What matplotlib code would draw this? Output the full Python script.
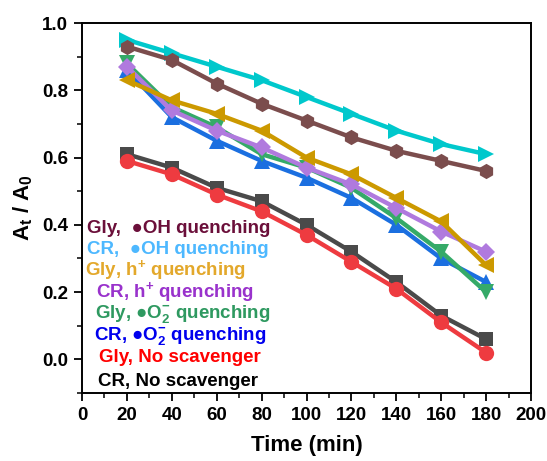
import matplotlib
matplotlib.use("Agg")
import matplotlib.pyplot as plt
from matplotlib.ticker import MultipleLocator

plt.rcParams['font.family'] = ['Liberation Sans', 'DejaVu Sans']
plt.rcParams['font.weight'] = 'bold'
plt.rcParams['mathtext.fontset'] = 'custom'
plt.rcParams['mathtext.rm'] = 'Liberation Sans:bold'
plt.rcParams['mathtext.it'] = 'Liberation Sans:bold'
plt.rcParams['mathtext.bf'] = 'Liberation Sans:bold'
plt.rcParams['mathtext.default'] = 'rm'

time = [20, 40, 60, 80, 100, 120, 140, 160, 180]
cr_none = [0.61, 0.57, 0.51, 0.47, 0.40, 0.32, 0.23, 0.13, 0.06]
gly_none = [0.59, 0.55, 0.49, 0.44, 0.37, 0.29, 0.21, 0.11, 0.02]
cr_oh = [0.95, 0.91, 0.87, 0.83, 0.78, 0.73, 0.68, 0.64, 0.61]
gly_oh = [0.93, 0.89, 0.82, 0.76, 0.71, 0.66, 0.62, 0.59, 0.56]
cr_o2 = [0.86, 0.72, 0.65, 0.59, 0.54, 0.48, 0.40, 0.30, 0.23]
gly_o2 = [0.88, 0.75, 0.69, 0.61, 0.57, 0.51, 0.42, 0.32, 0.20]
cr_h = [0.87, 0.74, 0.68, 0.63, 0.57, 0.52, 0.45, 0.38, 0.32]
gly_h = [0.83, 0.77, 0.73, 0.68, 0.60, 0.55, 0.48, 0.41, 0.28]

series = [
    (cr_none, '#4a4a4a', 's'),
    (gly_none, '#ee3b40', 'o'),
    (cr_oh, '#00c8cc', '>'),
    (gly_oh, '#7b4d4d', 'h'),
    (cr_o2, '#1b6fe0', '^'),
    (gly_o2, '#35aa68', 'v'),
    (cr_h, '#b07ade', 'D'),
    (gly_h, '#cc9900', '<'),
]

labels = [
    ("Gly,  ●OH quenching", '#6b0f3a'),
    ("CR,  ●OH quenching", '#4db8ff'),
    ("Gly, h$^{+}$ quenching", '#e3a82b'),
    ("CR, h$^{+}$ quenching", '#9932cc'),
    ("Gly, ●O$_{2}^{-}$ quenching", '#2e9960'),
    ("CR, ●O$_{2}^{-}$ quenching", '#0000ee'),
    ("Gly, No scavenger", '#ff0000'),
    ("CR, No scavenger", '#000000'),
]
label_x = [87, 87, 85, 96, 95, 94, 99, 98]
label_y = [228, 249, 270, 292, 314, 336, 358, 381]

W, H = 547, 461
fig = plt.figure(figsize=(W / 100, H / 100), dpi=100)
ax = fig.add_axes([82 / W, 1 - 393 / H, (531 - 82) / W, (393 - 23) / H])

for vals, c, m in series:
    ms = 11.5
    if m == 's':
        ms = 10
    if m == 'D':
        ms = 9.5
    if m in ('o', 'h'):
        ms = 11
    ax.plot(time, vals, color=c, marker=m, markersize=ms, linewidth=3.2,
            markeredgewidth=0)

ax.set_xlim(0, 200)
ax.set_ylim(-0.1, 1.0)
ax.xaxis.set_major_locator(MultipleLocator(20))
ax.xaxis.set_minor_locator(MultipleLocator(10))
ax.yaxis.set_major_locator(MultipleLocator(0.2))
ax.yaxis.set_minor_locator(MultipleLocator(0.1))
ax.set_yticks([0.0, 0.2, 0.4, 0.6, 0.8, 1.0])
ax.set_yticklabels(['0.0', '0.2', '0.4', '0.6', '0.8', '1.0'])
ax.tick_params(which='major', direction='out', length=6, width=1.3,
               labelsize=13.5, top=False, right=False, pad=4)
ax.tick_params(which='minor', direction='out', length=3.5, width=1.1,
               top=False, right=False)
for lab in ax.get_xticklabels() + ax.get_yticklabels():
    lab.set_fontweight('bold')
for sp in ax.spines.values():
    sp.set_linewidth(1.4)

ax.set_xlabel('Time (min)', fontsize=16, fontweight='bold', labelpad=8)
ax.set_ylabel('A$_{t}$ / A$_{0}$', fontsize=16, fontweight='bold', labelpad=5)

for (txt, c), lx, ly in zip(labels, label_x, label_y):
    fig.text(lx / W, 1 - ly / H, txt, color=c, fontsize=13.5, fontweight='bold',
             ha='left', va='center')

fig.savefig('out.png', dpi=100)
